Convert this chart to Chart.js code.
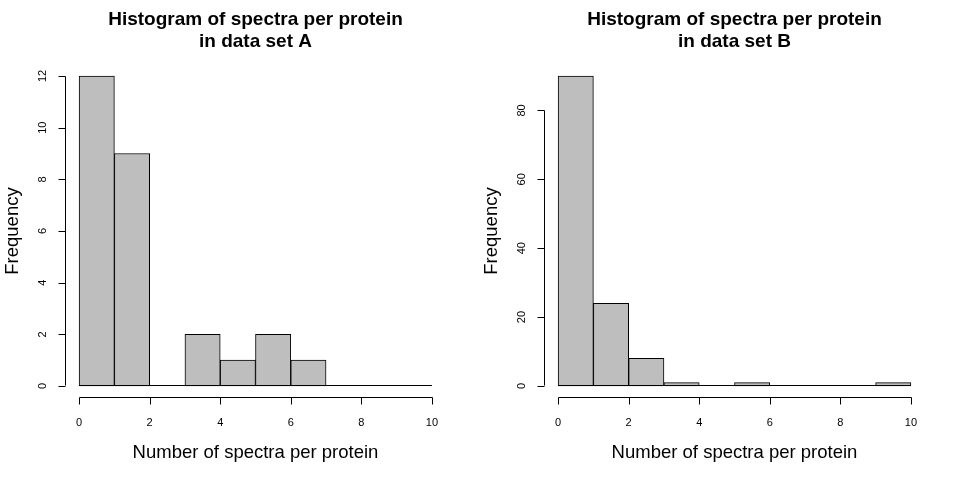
<!DOCTYPE html>
<html><head><meta charset="utf-8">
<script src="https://cdn.jsdelivr.net/npm/chart.js@4"></script>
<style>
html,body{margin:0;padding:0;background:#fff;}
#wrap{width:960px;height:480px;display:flex;}
.c{width:480px;height:480px;position:relative;}
</style></head>
<body><div id="wrap"><div class="c"><canvas id="a"></canvas></div><div class="c"><canvas id="b"></canvas></div></div>
<script>
const binStarts = [0,1,2,3,4,5,6,7,8,9];
const countsA = [12,9,0,2,1,2,1,0,0,0];
const countsB = [90,24,8,1,0,1,0,0,0,1];
const xTicks = [0,2,4,6,8,10];
const yTicksA = [0,2,4,6,8,10,12];
const yTicksB = [0,20,40,60,80];
const titleA = ["Histogram of spectra per protein","in data set A"];
const titleB = ["Histogram of spectra per protein","in data set B"];
const xLabel = "Number of spectra per protein";
const yLabel = "Frequency";

const FONT = "'Liberation Sans', Arial, Helvetica, sans-serif";

function makeChart(id, counts, yTicks, title, pad){
  const ymax = Math.max(...counts);
  // chart area 64..398; put 0 at 386 and ymax at 76
  const per = ymax/310;
  const rAxes = {
    id:'rAxes',
    afterDraw(chart){
      const ctx = chart.ctx, xs = chart.scales.x, ys = chart.scales.y, ca = chart.chartArea;
      ctx.save();
      ctx.strokeStyle='#000'; ctx.fillStyle='#000'; ctx.lineWidth=1;
      // baseline for all bins (R draws zero-height bins as flat rectangles)
      const y0 = Math.round(ys.getPixelForValue(0))-0.5;
      ctx.beginPath(); ctx.moveTo(xs.getPixelForValue(binStarts[0]), y0);
      ctx.lineTo(xs.getPixelForValue(binStarts[binStarts.length-1]+1), y0); ctx.stroke();
      // x axis
      const ay = Math.round(ca.bottom)-0.5;
      ctx.beginPath();
      ctx.moveTo(Math.round(xs.getPixelForValue(xTicks[0]))+0.5, ay);
      ctx.lineTo(Math.round(xs.getPixelForValue(xTicks[xTicks.length-1]))+0.5, ay);
      xTicks.forEach(v=>{const px=Math.round(xs.getPixelForValue(v))+0.5; ctx.moveTo(px,ay); ctx.lineTo(px,ay+7);});
      ctx.stroke();
      ctx.font = "11px "+FONT; ctx.textAlign='center'; ctx.textBaseline='middle';
      xTicks.forEach(v=>ctx.fillText(String(v), xs.getPixelForValue(v), ay+25));
      // y axis
      const ax = Math.round(ca.left)+0.5;
      ctx.beginPath();
      ctx.moveTo(ax, Math.round(ys.getPixelForValue(yTicks[0]))-0.5);
      ctx.lineTo(ax, Math.round(ys.getPixelForValue(yTicks[yTicks.length-1]))+0.5);
      yTicks.forEach(v=>{const py=Math.round(ys.getPixelForValue(v))+0.5; ctx.moveTo(ax,py); ctx.lineTo(ax-7,py);});
      ctx.stroke();
      yTicks.forEach(v=>{
        ctx.save(); ctx.translate(ax-23, ys.getPixelForValue(v)); ctx.rotate(-Math.PI/2);
        ctx.fillText(String(v),0,0); ctx.restore();
      });
      // axis titles
      ctx.font = "18.5px "+FONT;
      ctx.fillText(xLabel, (ca.left+ca.right)/2, ay+55);
      ctx.save(); ctx.translate(ax-53, (ca.top+ca.bottom)/2); ctx.rotate(-Math.PI/2);
      ctx.fillText(yLabel,0,0); ctx.restore();
      // main title
      ctx.font = "bold 19px "+FONT;
      title.forEach((t,i)=>ctx.fillText(t, (ca.left+ca.right)/2, 20+i*22));
      ctx.restore();
    }
  };
  return new Chart(document.getElementById(id), {
    type:'bar',
    data:{datasets:[{
      data: binStarts.map((s,i)=>({x:s+0.5, y:counts[i]})),
      backgroundColor:'#BEBEBE', borderColor:'#000', borderWidth:1,
      borderSkipped:false, barPercentage:1, categoryPercentage:1, grouped:false
    }]},
    options:{
      responsive:false, animation:false, devicePixelRatio:1,
      layout:{padding:{left:pad.l, right:pad.r, top:64, bottom:82}},
      plugins:{legend:{display:false}, tooltip:{enabled:false}},
      scales:{
        x:{type:'linear', min:-0.4, max:10.4, display:false, offset:false, grid:{offset:false}},
        y:{type:'linear', min:-12*per, max:ymax+12*per, display:false}
      }
    },
    plugins:[rAxes]
  });
}
document.getElementById('a').width=480; document.getElementById('a').height=480;
document.getElementById('b').width=480; document.getElementById('b').height=480;
makeChart('a', countsA, yTicksA, titleA, {l:65,r:34});
makeChart('b', countsB, yTicksB, titleB, {l:64,r:35});
</script></body></html>
